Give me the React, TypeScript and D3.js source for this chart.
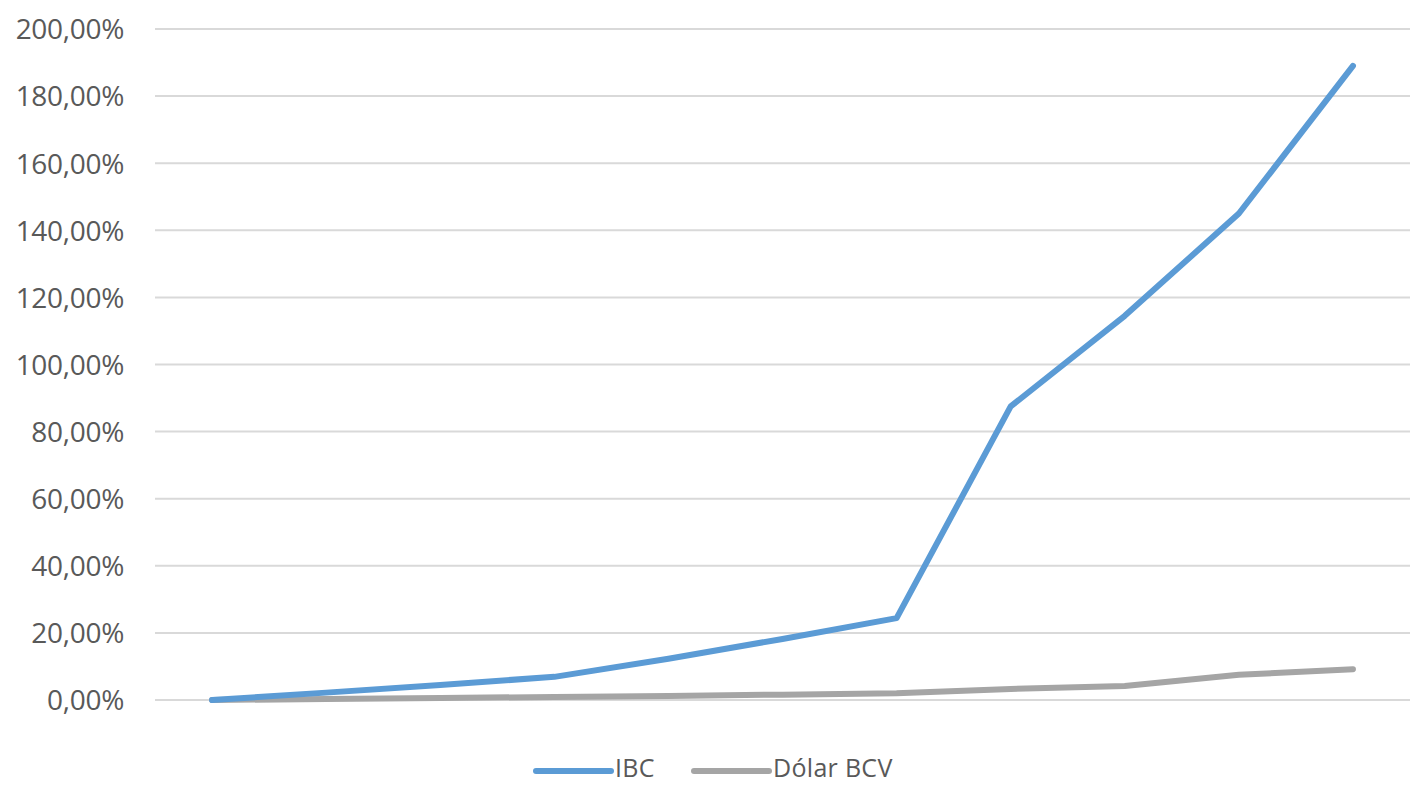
import React, { useEffect, useRef } from 'react';
import * as d3 from 'd3';

// periods (no labels on the original axis)
const periods = ['1', '2', '3', '4', '5', '6', '7', '8', '9', '10', '11'];
const ibc = [0, 2.2, 4.5, 6.9, 12.3, 18.2, 24.4, 87.5, 114.5, 145, 189];
const dolarBcv = [0, 0.3, 0.6, 0.9, 1.2, 1.6, 2.0, 3.3, 4.2, 7.5, 9.2];
const yTicks = [0, 20, 40, 60, 80, 100, 120, 140, 160, 180, 200];
const seriesNames = ['IBC', 'Dólar BCV'];
const seriesColors = ['#5b9bd5', '#a5a5a5'];

const width = 1418;
const height = 785;
const left = 155;
const right = 1410;
const top = 29;
const bottom = 700;

export default function App() {
  const ref = useRef<SVGSVGElement>(null);

  useEffect(() => {
    const svg = d3.select(ref.current);
    svg.selectAll('*').remove();

    const xScale = d3.scaleBand().domain(periods).range([left, right]);
    const yScale = d3.scaleLinear().domain([0, 200]).range([bottom, top]);

    // gridlines
    svg
      .append('g')
      .selectAll('line')
      .data(yTicks)
      .enter()
      .append('line')
      .attr('x1', left)
      .attr('x2', right)
      .attr('y1', (d) => yScale(d))
      .attr('y2', (d) => yScale(d))
      .attr('stroke', '#d9d9d9')
      .attr('stroke-width', 2);

    const yAxis = d3
      .axisLeft(yScale)
      .tickValues(yTicks)
      .tickSize(0)
      .tickPadding(0)
      .tickFormat((d) => (d as number).toFixed(2).replace('.', ',') + '%');

    const gy = svg
      .append('g')
      .attr('transform', 'translate(124, 0)')
      .call(yAxis);
    gy.select('.domain').remove();
    gy.selectAll('text')
      .attr('fill', '#595959')
      .style('font-family', 'Open Sans, sans-serif')
      .style('font-size', '28px')
      .style('letter-spacing', '-0.3px')
      .attr('dy', '0.35em');

    const line = d3
      .line<number>()
      .x((d, i) => (xScale(periods[i]) as number) + xScale.bandwidth() / 2)
      .y((d) => yScale(d));

    [ibc, dolarBcv]
      .slice()
      .reverse()
      .forEach((values, k) => {
        const idx = 1 - k;
        svg
          .append('path')
          .datum(values)
          .attr('d', line)
          .attr('fill', 'none')
          .attr('stroke', seriesColors[idx])
          .attr('stroke-width', 6)
          .attr('stroke-linejoin', 'round')
          .attr('stroke-linecap', 'round');
      });

    // legend
    const legendX = [536, 694];
    const legend = svg.append('g');
    seriesNames.forEach((name, i) => {
      legend
        .append('line')
        .attr('x1', legendX[i])
        .attr('x2', legendX[i] + 75)
        .attr('y1', 771)
        .attr('y2', 771)
        .attr('stroke', seriesColors[i])
        .attr('stroke-width', 6)
        .attr('stroke-linecap', 'round');
      legend
        .append('text')
        .attr('x', legendX[i] + 79)
        .attr('y', 777)
        .attr('fill', '#595959')
        .style('font-family', 'Open Sans, sans-serif')
        .style('font-size', '25px')
        .style('letter-spacing', '0.3px')
        .text(name);
    });
  }, []);

  return (
    <svg
      ref={ref}
      width={width}
      height={height}
      style={{ position: 'absolute', left: 0, top: 0, background: '#fff' }}
    />
  );
}
